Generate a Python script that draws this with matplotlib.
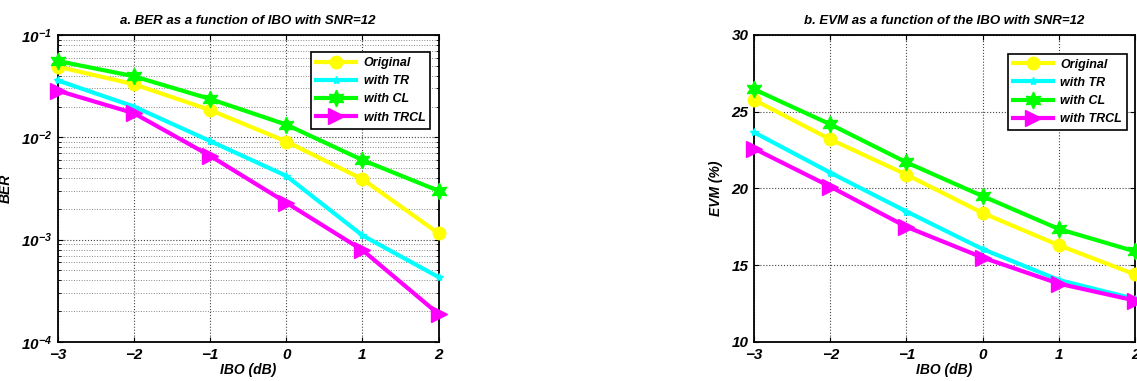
import numpy as np
import matplotlib.pyplot as plt
from matplotlib.ticker import LogLocator, NullFormatter, FixedLocator

plt.rcParams['font.family'] = ['Liberation Sans', 'DejaVu Sans']
plt.rcParams['font.weight'] = 'bold'
plt.rcParams['font.style'] = 'italic'
plt.rcParams['axes.titleweight'] = 'bold'
plt.rcParams['axes.labelweight'] = 'bold'
plt.rcParams['mathtext.fontset'] = 'custom'
plt.rcParams['mathtext.rm'] = 'Liberation Sans:bold:italic'
plt.rcParams['mathtext.it'] = 'Liberation Sans:bold:italic'
plt.rcParams['mathtext.bf'] = 'Liberation Sans:bold:italic'

# data
ibo = [-3, -2, -1, 0, 1, 2]
series_names = ['Original', 'with TR', 'with CL', 'with TRCL']

ber_original = [0.049, 0.033, 0.0185, 0.0091, 0.0039, 0.00115]
ber_tr = [0.036, 0.020, 0.0092, 0.0042, 0.0011, 0.00043]
ber_cl = [0.0557, 0.0395, 0.0237, 0.0133, 0.0060, 0.0030]
ber_trcl = [0.0286, 0.0172, 0.0066, 0.0023, 0.00079, 0.000187]

evm_original = [25.77, 23.2, 20.9, 18.4, 16.3, 14.4]
evm_tr = [23.66, 21.03, 18.5, 16.05, 14.04, 12.8]
evm_cl = [26.46, 24.18, 21.7, 19.5, 17.36, 15.9]
evm_trcl = [22.6, 20.12, 17.5, 15.5, 13.8, 12.7]

# styles: colour, marker, marker size
styles = [
    ('#ffff00', 'o', 9),
    ('#00ffff', '*', 6),
    ('#00ff00', (6, 1, 0), 12),
    ('#ff00ff', '>', 12),
]


def style_axes(ax):
    ax.tick_params(which='both', direction='in', top=True, right=True,
                   labelsize=11, pad=4)
    for sp in ax.spines.values():
        sp.set_linewidth(1.3)
    ax.set_xlim(-3, 2)
    ax.set_xticks(ibo)
    ax.set_xticklabels(['\u22123', '\u22122', '\u22121', '0', '1', '2'])
    ax.set_xlabel('IBO (dB)', fontsize=10, labelpad=1)


def add_legend(ax, anchor):
    leg = ax.legend(loc='upper right', bbox_to_anchor=anchor, fontsize=9,
                    fancybox=False, framealpha=1, edgecolor='black',
                    handlelength=3.2, borderpad=0.4, labelspacing=0.5,
                    handletextpad=0.6)
    leg.get_frame().set_linewidth(1.2)


fig = plt.figure(figsize=(11.37, 3.81), dpi=100)
ax1 = fig.add_axes([0.0507, 0.1024, 0.3351, 0.8058])
ax2 = fig.add_axes([0.6632, 0.1024, 0.3351, 0.8058])

ber_data = [ber_original, ber_tr, ber_cl, ber_trcl]
for name, vals, (c, m, ms) in zip(series_names, ber_data, styles):
    ax1.semilogy(ibo, vals, color=c, marker=m, markersize=ms, linewidth=3,
                 label=name, clip_on=False, zorder=3)
ax1.set_ylim(1e-4, 1e-1)
ax1.yaxis.set_major_locator(LogLocator(base=10, numticks=10))
ax1.yaxis.set_minor_locator(LogLocator(base=10, subs=np.arange(2, 10), numticks=20))
ax1.yaxis.set_minor_formatter(NullFormatter())
ax1.grid(True, which='major', linestyle=':', color='#444444', linewidth=0.8)
ax1.grid(True, which='minor', axis='y', linestyle=':', color='#888888', linewidth=0.7)
style_axes(ax1)
ax1.set_ylabel('BER', fontsize=10, labelpad=6)
ax1.set_title('a. BER as a function of IBO with SNR=12', fontsize=9.5, pad=8)
add_legend(ax1, (0.995, 0.965))

evm_data = [evm_original, evm_tr, evm_cl, evm_trcl]
for name, vals, (c, m, ms) in zip(series_names, evm_data, styles):
    ax2.plot(ibo, vals, color=c, marker=m, markersize=ms, linewidth=3,
             label=name, clip_on=False, zorder=3)
ax2.set_ylim(10, 30)
ax2.yaxis.set_major_locator(FixedLocator([10, 15, 20, 25, 30]))
ax2.grid(True, linestyle=':', color='#444444', linewidth=0.8)
style_axes(ax2)
ax2.set_ylabel('EVM (%)', fontsize=10, labelpad=6)
ax2.set_title('b. EVM as a function of the IBO with SNR=12', fontsize=9.5, pad=8)
add_legend(ax2, (0.995, 0.96))

fig.savefig('out.png', dpi=100)
